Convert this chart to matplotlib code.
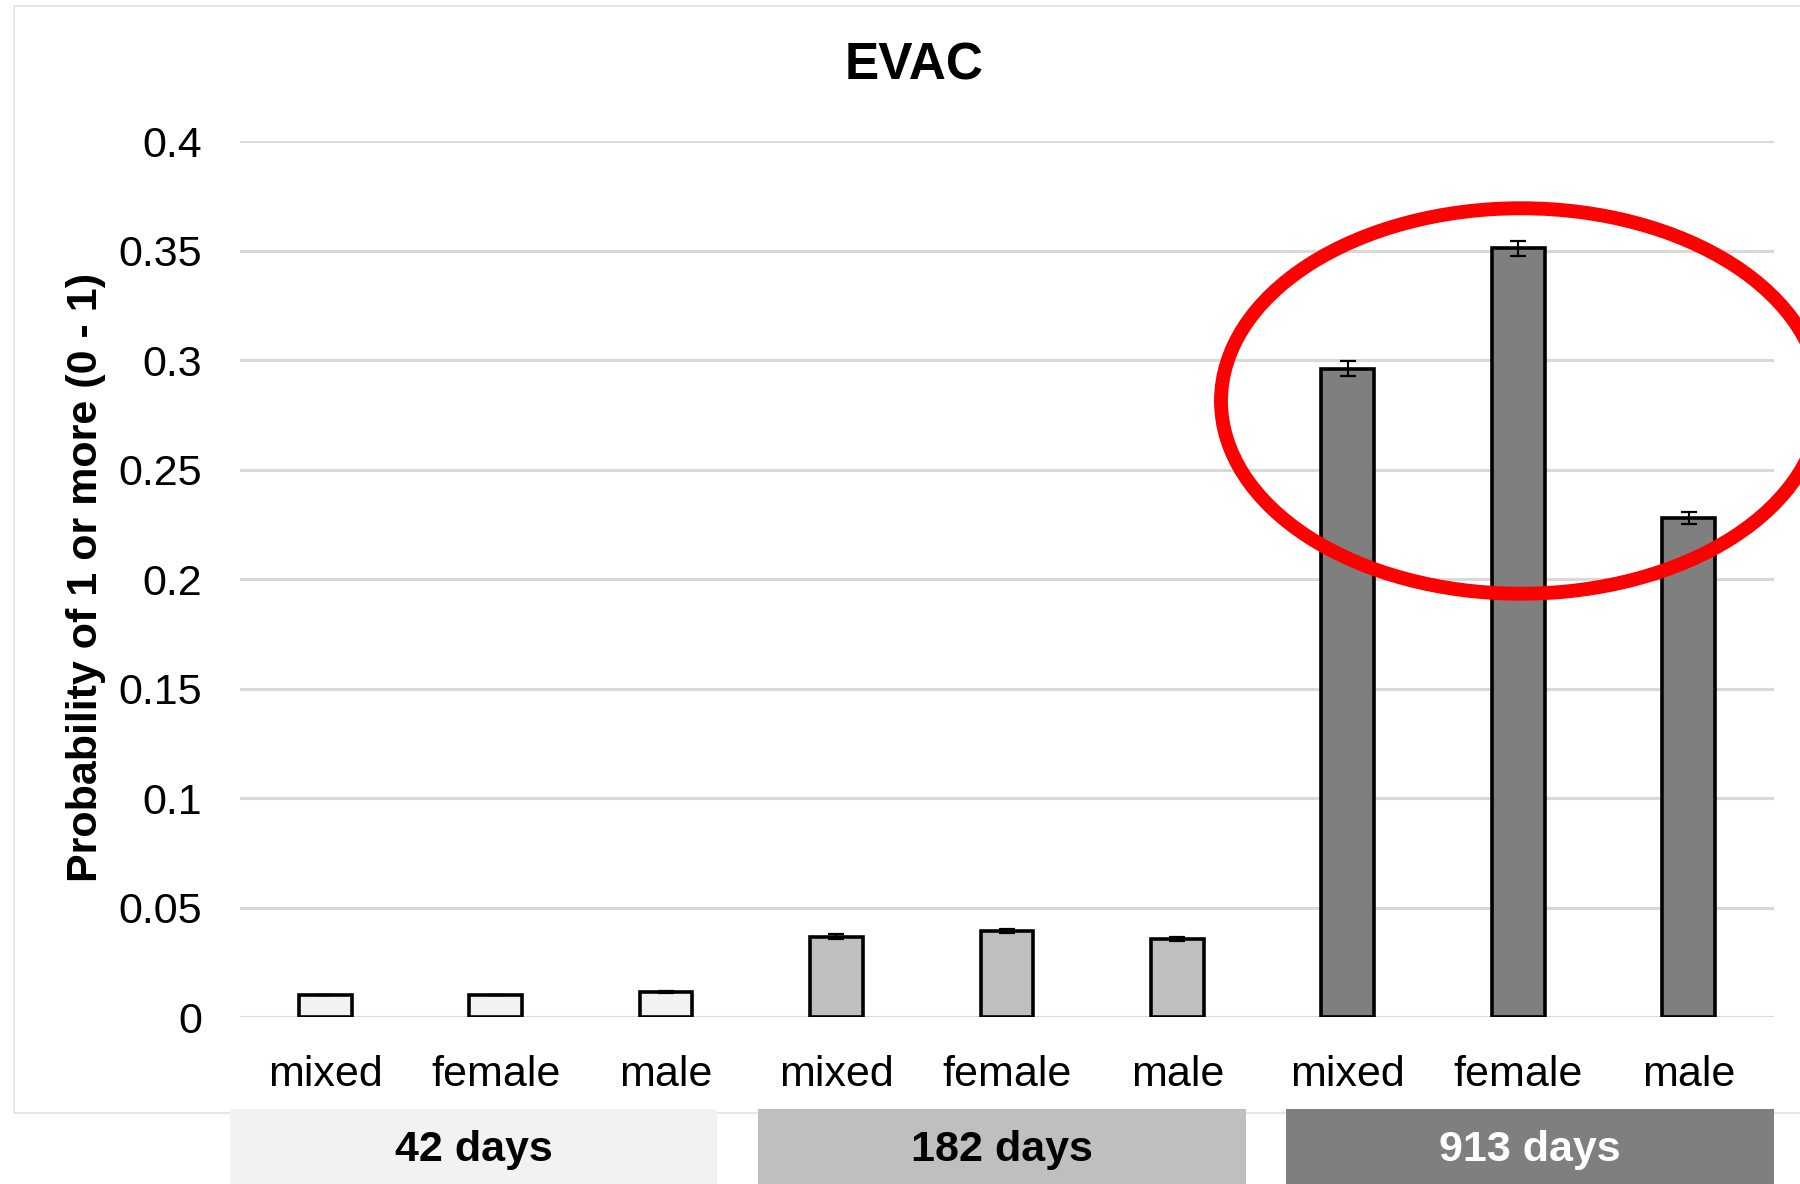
import matplotlib
matplotlib.use("Agg")
import matplotlib.pyplot as plt
from matplotlib.patches import Ellipse, Rectangle
import matplotlib.transforms as mtransforms

plt.rcParams['font.family'] = ['Liberation Sans', 'DejaVu Sans']

# data
groups = ["42 days", "182 days", "913 days"]
sexes = ["mixed", "female", "male"]
probs = [0.010, 0.010, 0.0115,
         0.0367, 0.0393, 0.0357,
         0.296, 0.351, 0.228]
errs = [0.0, 0.0, 0.0005,
        0.001, 0.001, 0.001,
        0.0035, 0.0035, 0.0028]
yticks = [0, 0.05, 0.1, 0.15, 0.2, 0.25, 0.3, 0.35, 0.4]
ytick_labels = ["0", "0.05", "0.1", "0.15", "0.2", "0.25", "0.3", "0.35", "0.4"]

group_colors = ["#F2F2F2", "#BFBFBF", "#7F7F7F"]
group_text = ["black", "black", "white"]

x = list(range(len(probs)))
labels = sexes * len(groups)
bar_colors = [c for c in group_colors for _ in sexes]

fig = plt.figure(figsize=(18, 11.84), dpi=100)
ax = fig.add_axes([0.1333, 0.1410, 0.8522, 0.7399])

# light frame round the chart
frame = Rectangle((14 / 1800, 1 - 1113 / 1184), 1.0, 1107 / 1184,
                  transform=fig.transFigure, fill=False,
                  edgecolor="#E3E3E3", linewidth=1.2, zorder=-1)
fig.add_artist(frame)

ax.bar(x, probs, width=0.31, color=bar_colors, edgecolor="black", linewidth=2.6,
       yerr=errs, capsize=6, error_kw=dict(elinewidth=1.5, capthick=1.6, ecolor="black"),
       zorder=3)

ax.set_xlim(-0.5, len(probs) - 0.5)
ax.set_ylim(0, 0.4)
ax.set_yticks(yticks)
ax.set_yticklabels(ytick_labels)
ax.set_xticks(x)
ax.set_xticklabels(labels)
ax.yaxis.grid(True, color="#D9D9D9", linewidth=2.2, zorder=0)
ax.set_axisbelow(True)
for s in ax.spines.values():
    s.set_visible(False)
ax.tick_params(axis="y", length=0, labelsize=31, pad=27)
ax.tick_params(axis="x", length=0, labelsize=31, pad=27)

fig.text(0.508, 0.944, "EVAC", ha="center", va="center", fontsize=37, fontweight="bold")
fig.text(0.048, 0.5127, "Probability of 1 or more (0 - 1)", rotation=90,
         ha="center", va="center", fontsize=31, fontweight="bold")

# group boxes under the category labels
trans = mtransforms.blended_transform_factory(ax.transData, fig.transFigure)
for i, g in enumerate(groups):
    x0 = -0.56 + 3.1 * i
    ax.add_patch(Rectangle((x0, -0.01), 2.86, 0.0733, transform=trans,
                           facecolor=group_colors[i], edgecolor="none", clip_on=False,
                           zorder=4))
    ax.text(x0 + 1.43, 0.0285, g, transform=trans, ha="center", va="center",
            fontsize=31, fontweight="bold", color=group_text[i], clip_on=False,
            zorder=5)

# highlight of the long-exposure bars
ax.add_patch(Ellipse((7.016, 0.2813), 3.52, 0.176, fill=False, edgecolor="#FF0000",
                     linewidth=10, clip_on=False, zorder=6))

fig.savefig("out.png", dpi=100)
